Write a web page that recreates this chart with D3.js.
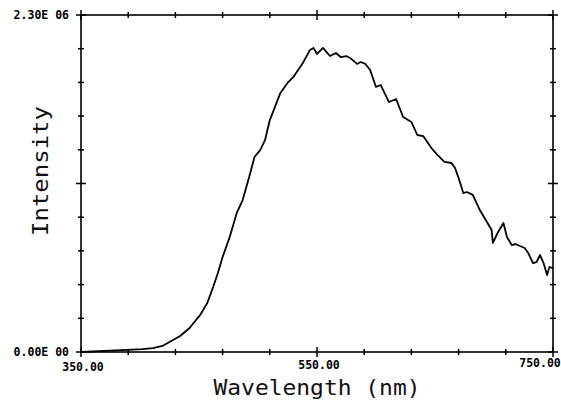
<!DOCTYPE html>
<html>
<head>
<meta charset="utf-8">
<script src="https://cdn.jsdelivr.net/npm/d3@7"></script>
<style>
  body { margin: 0; background: #fff; }
  .tickLabel { font-family: "DejaVu Sans Mono", monospace; font-weight: bold; font-size: 11.5px; fill: #000; }
  .axisTitle { font-family: "DejaVu Sans Mono", monospace; font-size: 21px; fill: #111; }
</style>
</head>
<body>
<div id="chart"></div>
<script>
// emission spectrum (intensity in units of 1e6)
var wavelength = [350, 389, 402, 411, 419, 425, 434, 442, 451, 457, 462, 466, 470, 476, 482, 487, 493, 497, 502, 506, 510, 519, 525, 530, 538, 544, 547, 550, 555, 561, 566, 570, 575, 578, 584, 587, 591, 595, 600, 604, 611, 617, 623, 630, 635, 640, 647, 652, 658, 664, 667, 670, 674, 677, 682, 688, 694, 698, 699, 703, 708, 711, 715, 718, 726, 729, 733, 736, 739, 742, 745, 747, 750];
var intensity = [0, 0.014, 0.020, 0.027, 0.041, 0.068, 0.109, 0.164, 0.253, 0.334, 0.444, 0.539, 0.648, 0.785, 0.949, 1.037, 1.208, 1.331, 1.379, 1.447, 1.583, 1.768, 1.836, 1.877, 1.972, 2.061, 2.075, 2.034, 2.075, 2.020, 2.041, 2.013, 2.020, 2.007, 1.966, 1.979, 1.966, 1.925, 1.809, 1.822, 1.706, 1.727, 1.604, 1.570, 1.481, 1.474, 1.392, 1.345, 1.297, 1.290, 1.256, 1.188, 1.085, 1.092, 1.072, 0.969, 0.887, 0.833, 0.744, 0.812, 0.880, 0.785, 0.730, 0.737, 0.710, 0.676, 0.607, 0.614, 0.662, 0.607, 0.526, 0.580, 0.573];

var xTicks = [350, 390, 430, 470, 510, 550, 590, 630, 670, 710, 750];
var xMajor = [350, 550, 750];
var xLabels = ["350.00", "550.00", "750.00"];
var yTicks = [0, 0.23, 0.46, 0.69, 0.92, 1.15, 1.38, 1.61, 1.84, 2.07, 2.3];
var yMajor = [0, 1.15, 2.3];
var yLabels = ["0.00E 00", "2.30E 06"];

var svgWidth = 561, svgHeight = 401;
var margin = { top: 15, right: 8, bottom: 49, left: 81 };
var width = svgWidth - margin.left - margin.right;
var height = svgHeight - margin.top - margin.bottom;

var svg = d3.select("#chart").append("svg")
  .attr("width", svgWidth)
  .attr("height", svgHeight);

var chartGroup = svg.append("g")
  .attr("transform", `translate(${margin.left}, ${margin.top})`);

var xScale = d3.scaleLinear().domain([350, 750]).range([0, width]);
var yScale = d3.scaleLinear().domain([0, 2.3]).range([height, 0]);

// frame
chartGroup.append("rect")
  .attr("width", width)
  .attr("height", height)
  .attr("fill", "none")
  .attr("stroke", "#000")
  .attr("stroke-width", 1.6);

// cross ticks on all four sides
function tickLen(isMajor) { return isMajor ? 5 : 3; }

[0, height].forEach(function(yy) {
  chartGroup.selectAll(null)
    .data(xTicks)
    .enter()
    .append("line")
    .attr("x1", d => xScale(d))
    .attr("x2", d => xScale(d))
    .attr("y1", d => yy - tickLen(xMajor.indexOf(d) >= 0))
    .attr("y2", d => yy + tickLen(xMajor.indexOf(d) >= 0))
    .attr("stroke", "#000")
    .attr("stroke-width", 1.5);
});

[0, width].forEach(function(xx) {
  chartGroup.selectAll(null)
    .data(yTicks)
    .enter()
    .append("line")
    .attr("y1", d => yScale(d))
    .attr("y2", d => yScale(d))
    .attr("x1", d => xx - tickLen(yMajor.indexOf(d) >= 0))
    .attr("x2", d => xx + tickLen(yMajor.indexOf(d) >= 0))
    .attr("stroke", "#000")
    .attr("stroke-width", 1.5);
});

// tick labels
chartGroup.selectAll(null)
  .data(xMajor)
  .enter()
  .append("text")
  .attr("class", "tickLabel")
  .attr("x", (d, i) => xScale(d) + (i === 2 ? -13 : 2))
  .attr("y", (d, i) => height + [19, 17, 15][i])
  .attr("text-anchor", "middle")
  .text((d, i) => xLabels[i]);

chartGroup.selectAll(null)
  .data([0, 2.3])
  .enter()
  .append("text")
  .attr("class", "tickLabel")
  .attr("x", -12)
  .attr("y", d => yScale(d) + 4)
  .attr("text-anchor", "end")
  .text((d, i) => yLabels[i]);

// axis titles
chartGroup.append("text")
  .attr("class", "axisTitle")
  .attr("x", xScale(550))
  .attr("y", height + 43)
  .attr("text-anchor", "middle")
  .attr("textLength", 207)
  .attr("lengthAdjust", "spacingAndGlyphs")
  .text("Wavelength (nm)");

chartGroup.append("text")
  .attr("class", "axisTitle")
  .attr("transform", "rotate(-90)")
  .attr("x", -(171 - margin.top))
  .attr("y", 48 - margin.left)
  .attr("text-anchor", "middle")
  .attr("textLength", 130)
  .attr("lengthAdjust", "spacingAndGlyphs")
  .text("Intensity");

// spectrum line
var line = d3.line()
  .x((d, i) => xScale(wavelength[i]))
  .y((d, i) => yScale(intensity[i]));

chartGroup.append("path")
  .datum(wavelength)
  .attr("d", line)
  .attr("fill", "none")
  .attr("stroke", "#000")
  .attr("stroke-width", 1.8)
  .attr("stroke-linejoin", "round");
</script>
</body>
</html>
